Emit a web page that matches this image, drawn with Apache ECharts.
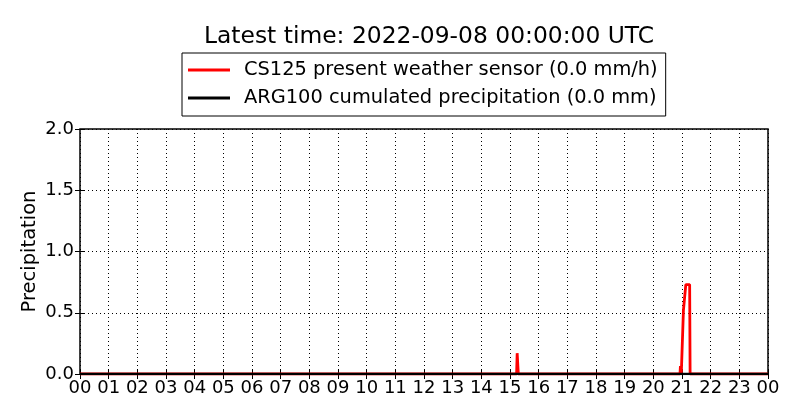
<!DOCTYPE html>
<html lang="en">
<head>
    <meta charset="UTF-8">
    <title>Precipitation</title>
    <script src="https://cdn.jsdelivr.net/npm/echarts@6/dist/echarts.min.js"></script>
</head>
<body style="margin:0;">
<div id="chart" style="width: 800px;height: 420px;"></div>
<script>
    // hour tick labels, 00 .. 23, then 00 of the next day
    var hourLabels = ['00', '01', '02', '03', '04', '05', '06', '07', '08', '09', '10', '11',
        '12', '13', '14', '15', '16', '17', '18', '19', '20', '21', '22', '23', '00'];

    // CS125 present weather sensor (mm/h)
    var cs125Hours = [0, 15.23, 15.25, 15.27, 15.29, 20.93, 20.945, 20.96, 20.975,
        21.033, 21.05, 21.117, 21.133, 21.267, 21.283, 24];
    var cs125Values = [0, 0, 0.17, 0.17, 0, 0, 0.065, 0.065, 0,
        0, 0.52, 0.52, 0.73, 0.73, 0, 0];

    // ARG100 cumulated precipitation (mm)
    var argHours = [0, 24];
    var argValues = [0, 0];

    var cs125Name = 'CS125 present weather sensor (0.0 mm/h)';
    var argName = 'ARG100 cumulated precipitation (0.0 mm)';

    function pairs(xs, ys) {
        var out = [];
        for (var i = 0; i < xs.length; i++) {
            out.push([xs[i], ys[i]]);
        }
        return out;
    }

    var font = 'DejaVu Sans';
    var tickStyle = {show: true, inside: true, length: 5, lineStyle: {color: '#000'}};
    var gridLine = {show: true, lineStyle: {color: '#000', type: [1, 3], width: 1}};

    var myChart = echarts.init(document.getElementById('chart'));
    var option = {
        animation: false,
        backgroundColor: '#fff',
        title: {
            text: 'Latest time: 2022-09-08 00:00:00 UTC',
            left: 199,
            top: 20,
            textStyle: {fontFamily: font, fontSize: 23.4, fontWeight: 'normal', color: '#000'}
        },
        legend: {
            orient: 'vertical',
            left: 182,
            top: 53,
            padding: [6, 8, 7, 6],
            itemGap: 6,
            itemWidth: 42,
            itemHeight: 3,
            icon: 'rect',
            borderColor: '#000',
            borderWidth: 1,
            textStyle: {fontFamily: font, fontSize: 19.4, color: '#000', lineHeight: 22, padding: [0, 0, 0, 9]},
            data: [cs125Name, argName]
        },
        grid: {
            left: 80,
            right: 32,
            top: 129,
            bottom: 46,
            show: true,
            borderColor: '#000',
            borderWidth: 1.5
        },
        xAxis: [{
            type: 'value',
            min: 0,
            max: 24,
            interval: 1,
            axisLine: {show: false},
            axisTick: tickStyle,
            splitLine: gridLine,
            axisLabel: {
                margin: 5,
                fontFamily: font,
                fontSize: 18,
                color: '#000',
                formatter: function (v) { return hourLabels[v]; }
            }
        }, {
            type: 'value',
            position: 'top',
            min: 0,
            max: 24,
            interval: 1,
            axisLine: {show: false},
            axisTick: tickStyle,
            axisLabel: {show: false},
            splitLine: {show: false}
        }],
        yAxis: [{
            type: 'value',
            min: 0,
            max: 2,
            interval: 0.5,
            name: 'Precipitation',
            nameLocation: 'middle',
            nameGap: 40,
            nameMoveOverlap: false,
            nameTextStyle: {fontFamily: font, fontSize: 19.5, color: '#000'},
            axisLine: {show: false},
            axisTick: tickStyle,
            splitLine: gridLine,
            axisLabel: {
                margin: 6,
                fontFamily: font,
                fontSize: 18,
                color: '#000',
                formatter: function (v) { return v.toFixed(1); }
            }
        }, {
            type: 'value',
            position: 'right',
            min: 0,
            max: 2,
            interval: 0.5,
            axisLine: {show: false},
            axisTick: tickStyle,
            axisLabel: {show: false},
            splitLine: {show: false}
        }],
        series: [{
            name: cs125Name,
            type: 'line',
            symbol: 'none',
            color: '#ff0000',
            lineStyle: {width: 2.8},
            data: pairs(cs125Hours, cs125Values)
        }, {
            name: argName,
            type: 'line',
            symbol: 'none',
            color: '#000000',
            lineStyle: {width: 2.5},
            data: pairs(argHours, argValues)
        }]
    };
    myChart.setOption(option);
</script>
</body>
</html>
